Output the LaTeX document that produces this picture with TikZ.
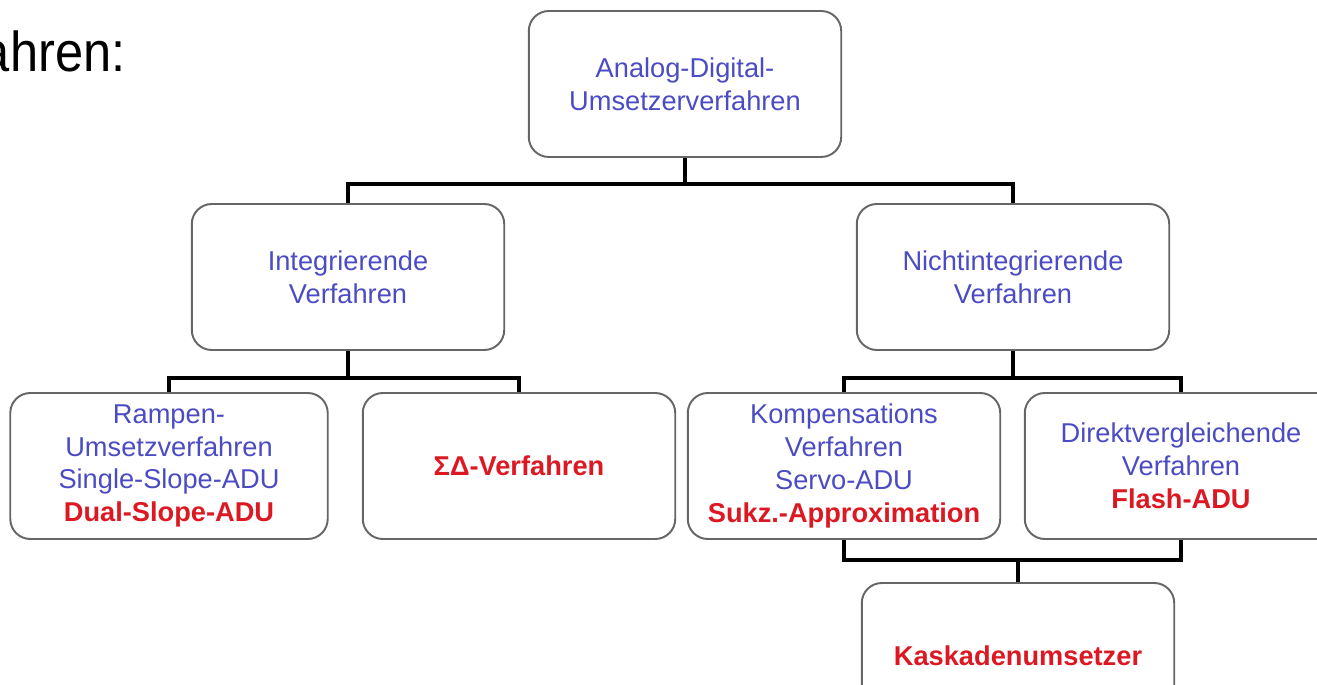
\documentclass[tikz,border=0pt]{standalone}
\usepackage{fontspec}
\setmainfont{Liberation Sans}
\definecolor{adublue}{RGB}{75,75,195}
\definecolor{adured}{RGB}{220,25,35}
\begin{document}
\begin{tikzpicture}[x=0.02cm,y=-0.02cm,
    box/.style={draw=black!60,line width=1.1pt,rounded corners=0.4cm,fill=white,
      minimum width=6.25cm,minimum height=2.92cm,align=center,text=adublue,
      font=\fontsize{15.5}{18.7}\selectfont},
    conn/.style={draw=black,line width=2.3pt},
    hl/.style={text=adured,font=\bfseries}]

    \useasboundingbox (0,0) rectangle (1317,685);
    \clip (0,0) rectangle (1317,685);

    \node[anchor=base east,xscale=0.9,font=\fontsize{32}{36}\selectfont] (titel) at (131,72) {Verfahren:};

    \node[box] (adu) at (685,84) {Analog-Digital-\\Umsetzerverfahren};
    \node[box] (integ) at (348,277) {Integrierende\\Verfahren};
    \node[box] (nicht) at (1013,277) {Nichtintegrierende\\Verfahren};

    \node[box,minimum width=6.35cm] (rampe) at (169,466) {Rampen-\\Umsetzverfahren\\Single-Slope-ADU\\{\color{adured}\bfseries Dual-Slope-ADU}};
    \node[box] (sigma) at (519,466) {{\color{adured}\bfseries ΣΔ-Verfahren}};
    \node[box] (kompens) at (844,466) {Kompensations\\Verfahren\\Servo-ADU\\{\color{adured}\bfseries Sukz.-Approximation}};
    \node[box] (direkt) at (1181,466) {Direktvergleichende\\Verfahren\\{\color{adured}\bfseries Flash-ADU}};
    \node[box] (kaskade) at (1018,656) {{\color{adured}\bfseries Kaskadenumsetzer}};

    \coordinate (j1) at (685,184);
    \coordinate (j2) at (348,378);
    \coordinate (j3) at (1013,378);
    \coordinate (j4) at (1018,560);

    \draw[conn] (adu.south) -- (j1) -| (integ.north);
    \draw[conn] (j1) -| (nicht.north);
    \draw[conn] (integ.south) -- (j2) -| (rampe.north);
    \draw[conn] (j2) -| (sigma.north);
    \draw[conn] (nicht.south) -- (j3) -| (kompens.north);
    \draw[conn] (j3) -| (direkt.north);
    \draw[conn] (kompens.south) |- (j4) -| (direkt.south);
    \draw[conn] (j4) -- (kaskade.north);
\end{tikzpicture}
\end{document}
